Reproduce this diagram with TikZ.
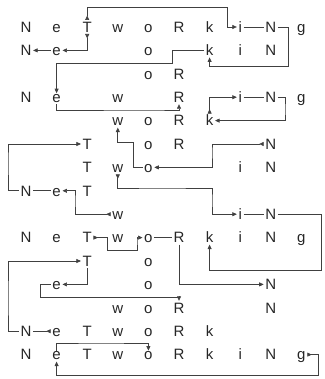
\documentclass[tikz,border=0pt]{standalone}
\usepackage{fontspec}
\setmainfont{Liberation Sans}
\usetikzlibrary{arrows.meta}

\newcommand{\wordletter}[1]{\ifcase#1 N\or e\or T\or w\or o\or R\or k\or i\or N\or g\fi}

\begin{document}
\begin{tikzpicture}[
  x=1pt, y=-1pt,
  letter/.style={inner sep=1.5pt, text height=10.6pt, text depth=0pt, text=black!85,
    font=\fontsize{15}{17}\selectfont},
  link/.style={draw=black!75, line width=0.65pt},
  arr/.style={link, -{Triangle[length=4.5pt, width=4pt]}},
  arrstart/.style={link, {Triangle[reversed, length=4.5pt, width=4pt]}-},
  arrboth/.style={link, {Triangle[reversed, length=4.5pt, width=4pt]}-{Triangle[length=4.5pt, width=4pt]}},
  lowend/.style={shorten >=-3pt},
  lowstart/.style={shorten <=-3pt},
]
  \useasboundingbox (0,0) rectangle (324,379);

  % the letters, row by row
  \foreach \r/\cols in {1/{0,...,9}, 2/{0,1,4,6,7,8}, 3/{4,5}, 4/{0,1,3,5,7,8,9},
      5/{3,4,5,6}, 6/{2,4,5,8}, 7/{2,3,4,7,8}, 8/{0,1,2}, 9/{3,7,8}, 10/{0,...,9},
      11/{2,4}, 12/{1,4,8}, 13/{3,4,5,8}, 14/{0,...,6}, 15/{0,...,9}}
    \foreach \c in \cols
      \node[letter] (n\r-\c) at ({26+30.6*\c}, {27+23.4*(\r-1)}) {\wordletter{\c}};

  % top block
  \draw[arrboth] (n1-2.north) |- (227,7) |- (n1-7.west);
  \draw[arrboth] (n1-2.south) |- (n2-1.east);
  \draw[arr] (n2-1.west) -- (n2-0.east);
  \draw[link] (n1-7.east) -- (n1-8.west);
  \draw[arr] (n1-8.east) -| (288,66) -| (n2-6.south);
  \draw[arr, lowend] (n2-6.west) -| (172,63) -| (n4-1.north);
  \draw[arr] (n4-1.south) |- (150,110) -| (n4-5.south);
  \draw[arrboth] (n5-6.north) |- (n4-7.west);
  \draw[link] (n4-7.east) -- (n4-8.west);
  \draw[arr] (n4-8.east) -| (285,110) |- (n5-6.east);

  % middle block
  \draw[arrboth] (n6-8.west) -| (212,150) |- (n7-4.east);
  \draw[arr] (n7-4.west) -| (133,142) -| (n5-3.south);
  \draw[arrboth] (n7-3.south) |- (160,188) -| (212,200) |- (n9-7.west);
  \draw[link] (n9-7.east) -- (n9-8.west);
  \draw[arr] (n9-8.east) -| (321,270) -| (n10-6.south);
  \draw[arrboth] (n9-3.west) -| (75,200) |- (n8-1.east);
  \draw[link] (n8-1.west) -- (n8-0.east);
  \draw[arr] (n8-0.west) -| (8,160) |- (n6-2.west);
  \draw[arrboth] (n10-2.east) -| (107,250) -| (137,240) |- (n10-4.west);
  \draw[link] (n10-4.east) -- (n10-5.west);
  \draw[arr] (n10-5.south) |- (n12-8.west);

  % bottom block
  \draw[arrstart] (n14-1.west) -- (n14-0.east);
  \draw[arr] (n14-0.west) -| (8,300) |- (n11-2.west);
  \draw[arr] (n11-2.south) |- (n12-1.east);
  \draw[arr] (n12-1.west) -| (40,297) -| (n13-5.north);
  \draw[arrboth] (n15-9.east) -| (318,375) -| (n15-1.south);
  \draw[arr, lowend, lowstart] (n15-1.north) |- (100,343) -| (n15-4.north);
\end{tikzpicture}
\end{document}
